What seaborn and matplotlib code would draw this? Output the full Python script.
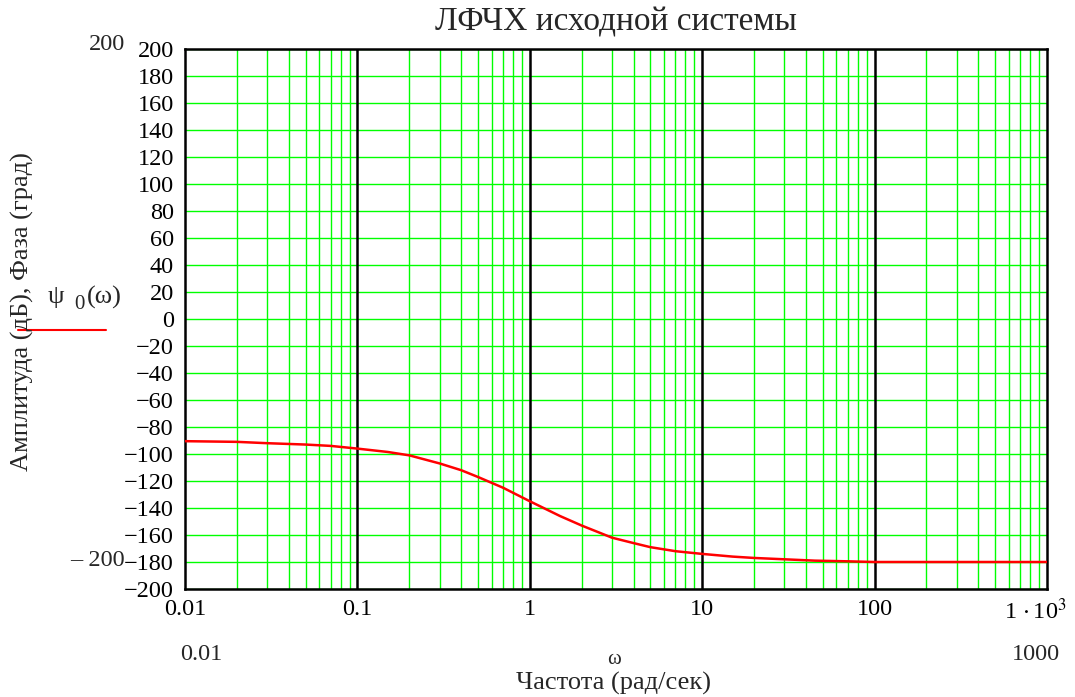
import matplotlib
matplotlib.use("Agg")
import matplotlib.pyplot as plt
import matplotlib.transforms as mtransforms
from matplotlib.ticker import LogLocator, FixedLocator, NullFormatter
import seaborn as sns
import pandas as pd

# ---- data ----
omega = [0.01, 0.02, 0.03, 0.05, 0.07, 0.1, 0.15, 0.2, 0.3, 0.4, 0.5, 0.7,
         1, 1.5, 2, 3, 4, 5, 7, 10, 15, 20, 30, 45, 70, 100, 200, 500, 1000]
psi0 = [-90.5, -91, -92, -93, -94, -96, -98.5, -101, -107, -112, -117, -125,
        -135, -146, -153, -162, -166, -169, -172, -174, -176, -177, -178, -179,
        -179.5, -180, -180, -180, -180]
x_ticks = [0.01, 0.1, 1, 10, 100, 1000]
x_tick_labels = ["0.01", "0.1", "1", "10", "100", r"1$\,\cdot$10$^{3}$"]
y_ticks = list(range(-200, 201, 20))
y_tick_labels = [("\u2212" + str(-v)) if v < 0 else str(v) for v in y_ticks]

sns.set_style("white")
plt.rcParams["font.family"] = ["Liberation Serif", "DejaVu Serif"]
plt.rcParams["mathtext.fontset"] = "stix"

TICK_FS = 17.5
LABEL_FS = 19

fig = plt.figure(figsize=(10.75, 6.97), dpi=100)
ax = fig.add_axes([185/1075, 1-589/697, (1047-185)/1075, (589-49)/697])

df = pd.DataFrame({"omega": omega, "psi0": psi0})
sns.lineplot(data=df, x="omega", y="psi0", ax=ax, color="#ff0000", lw=1.8, zorder=5)

ax.set_xscale("log")
ax.set_xlim(0.01, 1000)
ax.set_ylim(-200, 200)

ax.xaxis.set_major_locator(FixedLocator(x_ticks))
ax.set_xticklabels(x_tick_labels)
ax.xaxis.set_minor_locator(LogLocator(base=10, subs=range(2, 10), numticks=20))
ax.xaxis.set_minor_formatter(NullFormatter())
ax.set_yticks(y_ticks)
ax.set_yticklabels(y_tick_labels)
ax.tick_params(axis="both", which="both", length=0, labelsize=TICK_FS, colors="black")
ax.tick_params(axis="y", pad=8)
ax.tick_params(axis="x", pad=7)

# shift the last x tick label left so it stays inside the figure
last = ax.get_xticklabels()[-1]
last.set_transform(last.get_transform() +
                   mtransforms.ScaledTranslation(-12/100, 0, fig.dpi_scale_trans))

# grid
ax.grid(False)
ax.xaxis.grid(True, which="minor", color="#00ff00", lw=1.0, zorder=1)
ax.yaxis.grid(True, which="major", color="#00ff00", lw=1.0, zorder=1)
for xv in x_ticks[1:-1]:
    ax.axvline(xv, color="black", lw=1.8, zorder=2)
for s in ax.spines.values():
    s.set_color("black")
    s.set_linewidth(1.8)
    s.set_visible(True)

ax.set_xlabel("")
ax.set_ylabel("")

# texts
fig.text(616/1075, 1-22/697, "ЛФЧХ исходной системы", ha="center", va="center", fontsize=24)
fig.text(22/1075, 1-312/697, "Амплитуда (дБ), Фаза (град)", rotation=90,
         ha="center", va="center", fontsize=LABEL_FS)
# legend entry
fig.text(48/1075, 1-297/697, "ψ", ha="left", va="center", fontsize=LABEL_FS)
fig.text(74/1075, 1-305/697, "0", ha="left", va="center", fontsize=15)
fig.text(87/1075, 1-297/697, "(ω)", ha="left", va="center", fontsize=LABEL_FS)
fig.add_artist(plt.Line2D([18/1075, 106/1075], [1-330/697, 1-330/697], color="#ff0000", lw=1.5))
fig.text(107/1075, 1-44/697, "200", ha="center", va="center", fontsize=TICK_FS)
fig.text(97/1075, 1-561/697, "\u2013 200", ha="center", va="center", fontsize=TICK_FS)
fig.text(201/1075, 1-655/697, "0.01", ha="center", va="center", fontsize=TICK_FS)
fig.text(1036/1075, 1-655/697, "1000", ha="center", va="center", fontsize=TICK_FS)
fig.text(614/1075, 1-660/697, "ω", ha="center", va="center", fontsize=15)
fig.text(614/1075, 1-683/697, "Частота (рад/сек)", ha="center", va="center", fontsize=LABEL_FS)

fig.savefig("out.png", dpi=100)
